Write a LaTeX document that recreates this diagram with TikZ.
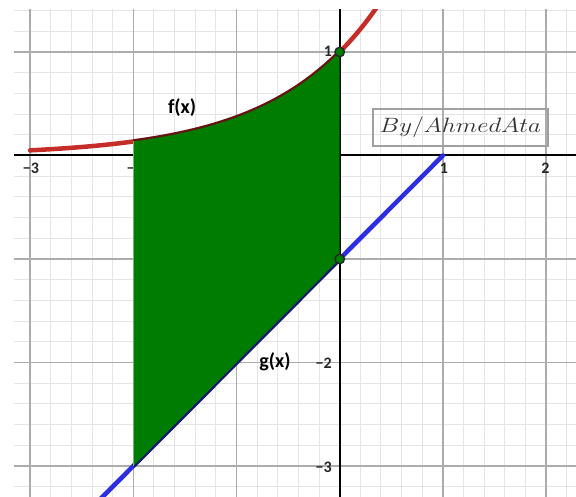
\documentclass[tikz,border=0pt]{standalone}
\usepackage{fontspec}
\usepackage{graphicx}
\newfontfamily\lab{Carlito}
\definecolor{fred}{RGB}{198,44,40}
\definecolor{gblue}{RGB}{45,45,225}
\definecolor{rgreen}{RGB}{0,125,0}
\definecolor{minorc}{RGB}{228,228,228}
\definecolor{majorc}{RGB}{172,172,172}
\definecolor{boxc}{RGB}{160,160,160}
\definecolor{txtc}{RGB}{50,50,50}
\begin{document}
\begin{tikzpicture}[x=103.2pt,y=103.5pt,
  minorgrid/.style={draw=minorc,line width=1pt},
  majorgrid/.style={draw=majorc,line width=1.5pt},
  axisline/.style={draw=black,line width=2pt},
  tlabel/.style={font=\lab\bfseries\fontsize{16}{16}\selectfont,inner sep=0pt,text=black!85},
  flabel/.style={font=\lab\bfseries\fontsize{20}{20}\selectfont,inner sep=0pt},
  fcurve/.style={draw=fred,line width=4.5pt,line cap=round},
  gcurve/.style={draw=gblue,line width=4.5pt,line cap=round},
  darken/.style={draw=black,opacity=0.5,line width=4.5pt},
  ptmark/.style={circle,draw=black!85,line width=1.4pt,fill=rgreen,minimum size=9.5pt,inner sep=0pt},
  signbox/.style={draw=boxc,line width=2pt,minimum width=175pt,minimum height=37pt,inner sep=0pt,text=txtc}
  ]
\useasboundingbox (-3.2917,-3.2995) rectangle (2.2897,1.5024);
\fill[white] (-3.2917,-3.2995) rectangle (2.2897,1.5024);
% grid
\begin{scope}
  \clip (-3.156,-3.2995) rectangle (2.2897,1.415);
  \foreach \i in {-17,...,12} \draw[minorgrid] (\i/5,-3.5) -- (\i/5,1.6);
  \foreach \j in {-17,...,8} \draw[minorgrid] (-3.5,\j/5) -- (2.4,\j/5);
  \foreach \i in {-3,...,2} \draw[majorgrid] (\i,-3.5) -- (\i,1.6);
  \foreach \j in {-3,...,1} \draw[majorgrid] (-3.5,\j) -- (2.4,\j);
  % axes
  \draw[axisline] (-3.2,0) -- (2.4,0);
  \draw[axisline] (0,-3.5) -- (0,1.6);
\end{scope}
% tick labels
\node[tlabel] (xm3) at (-2.991,-0.125) {−3};
\node[tlabel] (xm2) at (-1.985,-0.125) {−2};
\node[tlabel] (xm1) at (-0.985,-0.125) {−1};
\node[tlabel] (xp1) at (1.01,-0.125) {1};
\node[tlabel] (xp2) at (1.994,-0.125) {2};
\node[tlabel] (yp1) at (-0.113,1.01) {1};
\node[tlabel] (ym1) at (-0.152,-1.005) {−1};
\node[tlabel] (ym2) at (-0.155,-2.005) {−2};
\node[tlabel] (ym3) at (-0.155,-3.01) {−3};
% curves
\begin{scope}
  \clip (-3.156,-3.2995) rectangle (2.2897,1.415);
  \draw[fcurve] plot[domain=-3:0.37,samples=90,smooth] (\x,{exp(\x)});
  \draw[gcurve] (1,0) -- (-2.5,-3.5);
  \draw[darken] plot[domain=-2:0,samples=60,smooth] (\x,{exp(\x)});
  \draw[darken] (-2,-3) -- (0,-1);
\end{scope}
% region
\fill[rgreen] (-2,-3) -- (-2,{exp(-2)}) -- plot[domain=-2:0,samples=60,smooth] (\x,{exp(\x)}) -- (0,-1) -- cycle;
\draw[rgreen!55!white,line width=0.8pt] (-2,-3) -- (-2,{exp(-2)});
% points
\node[ptmark] (p1) at (0,1) {};
\node[ptmark] (p2) at (0,-1) {};
% function labels
\node[flabel] (fl) at (-1.528,0.459) {f(x)};
\node[flabel] (gl) at (-0.627,-1.995) {g(x)};
% signature box
\node[signbox] (sig) at (1.1696,0.2705) {\scalebox{1.2}[1]{\fontsize{19.5}{20}\selectfont$By/AhmedAta$}};
\end{tikzpicture}
\end{document}
